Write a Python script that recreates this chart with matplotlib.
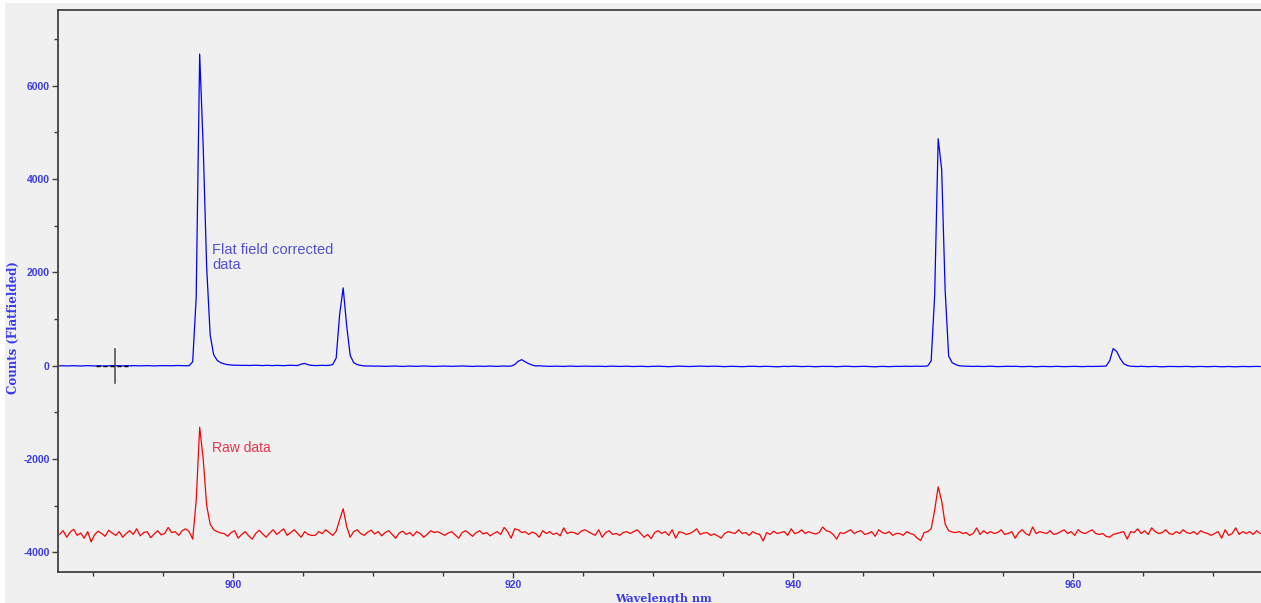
import numpy as np
import matplotlib
matplotlib.use("Agg")
import matplotlib.pyplot as plt
from matplotlib.ticker import MultipleLocator
from matplotlib.patches import Rectangle

plt.rcParams["axes.unicode_minus"] = False

# wavelength grid (nm), 0.25 nm steps
wl_start = 887.6
wl_step = 0.25

# flat field corrected counts
flat = [
    -8, -5, -10, -6, -4, -9, -12, -6, -3, -7, -10, -5, -8, -12, -6, -4, -2, -6, -9, -4,
    -6, -3, -5, -8, -4, -2, -5, -9, -6, -3, -4, -7, -5, -2, 0, -4, -6, -3, 80, 1450,
    6674, 4700, 2100, 650, 230, 110, 60, 35, 18, 10, 5, 6, 2, 4, 0, 3, 6, 2, -2, 4,
    1, -2, 3, 0, -3, 2, 5, 1, -1, 30, 45, 15, 3, -2, 1, 4, 0, 5, 20, 160,
    1100, 1663, 850, 220, 60, 20, 2, -8, -12, -10, -14, -12, -15, -18, -15, -14, -12, -16, -20, -15,
    -12, -15, -18, -14, -10, -13, -16, -20, -17, -14, -12, -15, -18, -16, -13, -10, -14, -17, -20, -15,
    -14, -18, -15, -12, -16, -20, -14, -11, -15, -12, 20, 90, 125, 80, 40, 10, -10, -5, -12, -15,
    -18, -16, -14, -17, -20, -15, -13, -16, -19, -17, -14, -16, -20, -18, -15, -17, -21, -16, -14, -18,
    -20, -17, -15, -19, -22, -18, -16, -20, -24, -19, -17, -15, -18, -21, -25, -20, -17, -14, -16, -19,
    -22, -18, -15, -12, -16, -20, -17, -14, -18, -21, -24, -20, -17, -19, -22, -25, -21, -18, -16, -20,
    -23, -19, -17, -20, -24, -28, -22, -18, -21, -17, -15, -19, -23, -20, -18, -22, -26, -21, -18, -20,
    -19, -22, -25, -21, -18, -16, -20, -24, -22, -19, -17, -21, -25, -28, -22, -19, -21, -24, -20, -18,
    -20, -17, -15, -19, -16, -14, -18, -15, -10, 100, 1500, 4860, 4200, 1600, 200, 60, 20, -5, -12, -15,
    -18, -20, -16, -19, -22, -18, -15, -20, -24, -21, -18, -16, -20, -17, -21, -25, -22, -19, -23, -26,
    -22, -19, -21, -24, -20, -18, -22, -25, -23, -20, -18, -21, -24, -22, -19, -21, -20, -18, -16, -10,
    100, 362, 300, 150, 40, 0, -15, -20, -22, -18, -21, -25, -22, -19, -24, -28, -23, -20, -22, -26,
    -24, -21, -19, -23, -27, -22, -20, -24, -26, -22, -19, -23, -27, -24, -21, -25, -28, -23, -20, -22,
    -24, -21, -19, -22,
]

# raw counts (offset)
raw = [
    -3620, -3540, -3680, -3570, -3510, -3640, -3590, -3700, -3560, -3780, -3620, -3550, -3600, -3660, -3530, -3590, -3640, -3560, -3680, -3600,
    -3540, -3620, -3500, -3650, -3580, -3560, -3690, -3610, -3540, -3630, -3600, -3470, -3580, -3560, -3640, -3540, -3500, -3560, -3720, -2900,
    -1322, -2000, -3000, -3400, -3520, -3560, -3590, -3600, -3660, -3580, -3540, -3700, -3620, -3560, -3650, -3720, -3600, -3530, -3610, -3680,
    -3590, -3520, -3620, -3560, -3500, -3640, -3580, -3520, -3600, -3680, -3560, -3620, -3640, -3640, -3560, -3600, -3520, -3580, -3640, -3550,
    -3300, -3070, -3450, -3680, -3560, -3520, -3600, -3640, -3570, -3530, -3610, -3560, -3650, -3580, -3540, -3620, -3700, -3590, -3550, -3620,
    -3580, -3650, -3560, -3600, -3680, -3620, -3540, -3580, -3560, -3600, -3640, -3590, -3560, -3630, -3700, -3580, -3540, -3600, -3660, -3580,
    -3540, -3610, -3580, -3650, -3600, -3560, -3620, -3470, -3560, -3700, -3500, -3520, -3580, -3560, -3620, -3570, -3600, -3680, -3540, -3600,
    -3560, -3620, -3590, -3650, -3480, -3600, -3570, -3580, -3620, -3550, -3520, -3560, -3600, -3640, -3520, -3680, -3580, -3540, -3620, -3600,
    -3640, -3580, -3560, -3600, -3560, -3520, -3600, -3680, -3620, -3710, -3580, -3540, -3600, -3560, -3640, -3520, -3700, -3560, -3580, -3620,
    -3600, -3560, -3500, -3620, -3590, -3580, -3640, -3610, -3650, -3700, -3600, -3560, -3580, -3600, -3520, -3600, -3580, -3640, -3560, -3600,
    -3620, -3760, -3580, -3620, -3550, -3600, -3580, -3560, -3640, -3500, -3600, -3580, -3520, -3600, -3560, -3590, -3610, -3580, -3460, -3540,
    -3560, -3620, -3720, -3580, -3600, -3560, -3520, -3600, -3560, -3540, -3620, -3600, -3560, -3660, -3520, -3580, -3600, -3560, -3640, -3600,
    -3600, -3640, -3560, -3600, -3620, -3700, -3750, -3580, -3560, -3500, -3100, -2600, -2900, -3400, -3540, -3570, -3580, -3560, -3600, -3580,
    -3640, -3600, -3480, -3620, -3540, -3600, -3560, -3600, -3580, -3520, -3620, -3600, -3560, -3700, -3580, -3520, -3600, -3640, -3460, -3600,
    -3560, -3580, -3600, -3540, -3620, -3600, -3560, -3520, -3600, -3560, -3640, -3520, -3580, -3600, -3560, -3520, -3600, -3620, -3600, -3660,
    -3680, -3620, -3600, -3580, -3560, -3720, -3560, -3580, -3500, -3600, -3540, -3620, -3480, -3560, -3600, -3580, -3520, -3600, -3620, -3560,
    -3600, -3520, -3580, -3600, -3560, -3620, -3540, -3580, -3600, -3640, -3600, -3560, -3700, -3520, -3640, -3600, -3480, -3620, -3560, -3600,
    -3560, -3620, -3540, -3600,
]

wl = wl_start + wl_step * np.arange(len(flat))

cursor_wl = 891.53
label_blue = "#3a3af0"
bg = "#f0f0f0"

fig = plt.figure(figsize=(12.61, 6.03), dpi=100, facecolor="white")
fig.patches.append(Rectangle((5 / 1261, 0), 1, 1 - 3 / 603, transform=fig.transFigure,
                             facecolor=bg, edgecolor="none", zorder=-10))
ax = fig.add_axes([58 / 1261, 1 - 572 / 603, 1 - 58 / 1261, (572 - 10) / 603])
ax.set_facecolor(bg)

ax.plot(wl, flat, color="#0000ff", lw=0.9)
ax.plot(wl, raw, color="#ff0000", lw=0.9)

# cursor mark
ax.plot([cursor_wl, cursor_wl], [362, -384], color="#555555", lw=1.2)
ax.plot([890.2, 892.7], [-10, -10], color="black", lw=1, ls=(0, (3, 2)))

ax.text(898.48, 2620, "Flat field corrected\ndata", color="#5050d8", fontsize=10.5,
        family="Liberation Sans", va="top", ha="left", linespacing=1.1)
ax.text(898.48, -1770, "Raw data", color="#e8344e", fontsize=10,
        family="Liberation Sans", va="center", ha="left")

ax.set_xlim(887.48, 973.41)
ax.set_ylim(-4425, 7618)
ax.xaxis.set_major_locator(MultipleLocator(20))
ax.xaxis.set_minor_locator(MultipleLocator(5))
ax.yaxis.set_major_locator(MultipleLocator(2000))
ax.yaxis.set_minor_locator(MultipleLocator(1000))

for s in ["left", "top", "bottom"]:
    ax.spines[s].set_color("#404040")
    ax.spines[s].set_linewidth(1.3)
ax.spines["right"].set_visible(False)

ax.tick_params(which="major", length=4.5, width=1, color="#404040", labelcolor=label_blue,
               labelsize=7.5, pad=1.5)
ax.tick_params(which="minor", length=3, width=1, color="#404040")
for lab in ax.get_xticklabels() + ax.get_yticklabels():
    lab.set_family("Liberation Sans")
    lab.set_fontweight("bold")

fig.text(13 / 1261, 1 - 328 / 603, "Counts (Flatfielded)", rotation=90, color=label_blue,
         family="DejaVu Serif", fontweight="bold", fontsize=8.5, ha="center", va="center")
fig.text(663 / 1261, 1 - 598 / 603, "Wavelength nm", color=label_blue,
         family="DejaVu Serif", fontweight="bold", fontsize=8, ha="center", va="center")

fig.savefig("out.png", dpi=100, facecolor=fig.get_facecolor())
